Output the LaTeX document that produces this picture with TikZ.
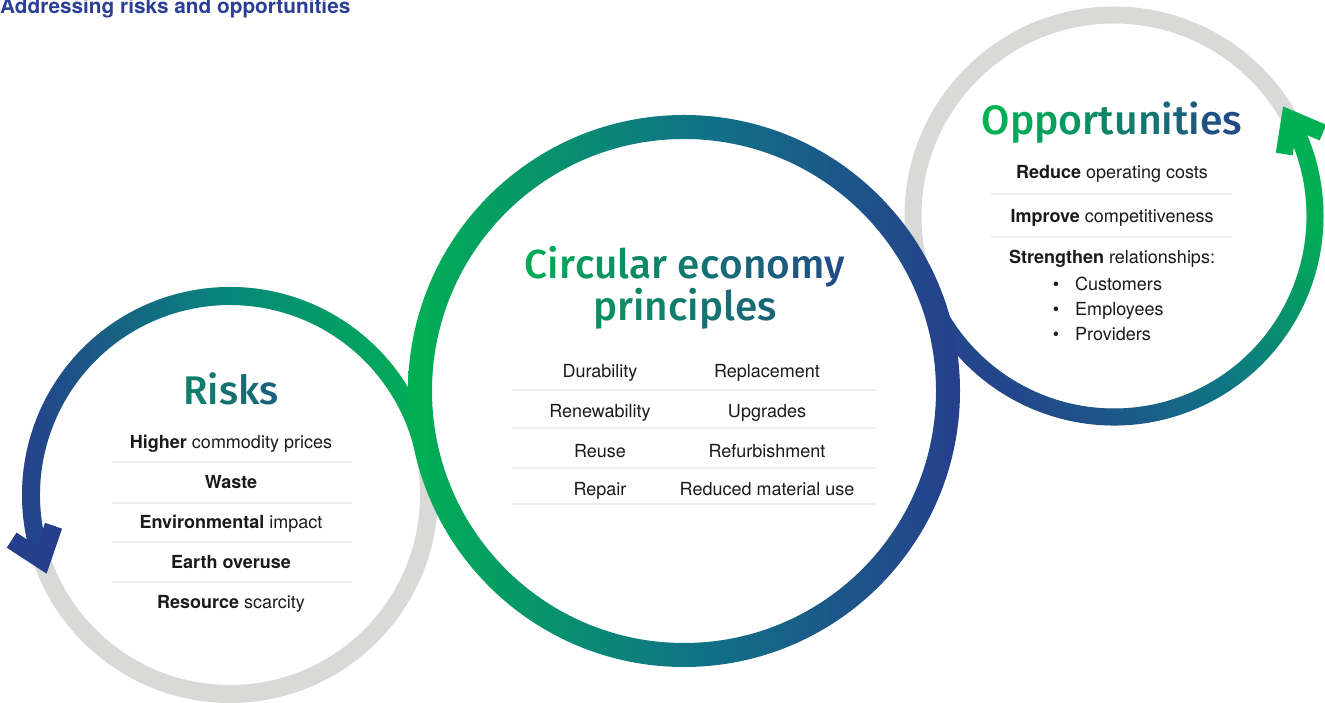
\documentclass[tikz,border=0pt]{standalone}
\usepackage{fontspec}
\setmainfont{TeX Gyre Heros}
\newfontfamily\medfont{Fira Sans Medium}
\usetikzlibrary{calc}
\definecolor{cgreen}{HTML}{00B052}
\definecolor{cblue}{HTML}{263F8C}
\definecolor{cmid}{HTML}{0F7585}
\definecolor{cteal}{HTML}{07877B}
\definecolor{cgray}{HTML}{D9D9D8}
\definecolor{csep}{HTML}{EEEEEE}
\definecolor{ctext}{HTML}{1A1A1A}
\definecolor{ctitle}{HTML}{2B3F95}
\newcommand\gc[2]{\textcolor{cblue!#1!cgreen}{#2}}
\begin{document}
\begin{tikzpicture}[x=1pt,y=1pt,
  body/.style={font=\fontsize{18}{20}\selectfont, text=ctext, inner sep=0pt, anchor=base},
  titl/.style={inner sep=0pt, anchor=base},
  sep/.style={draw=csep, line width=2.5pt},
  chevron/.style={line width=#1, miter limit=10, line join=miter, line cap=butt},
]
\useasboundingbox (0,0) rectangle (1325,703);
\coordinate (L) at (230,208);
\coordinate (M) at (684,312);
\coordinate (R) at (1114,487);

% gray rings
\draw[cgray, line width=18pt] (L) circle[radius=199pt];
\draw[cgray, line width=17pt] (R) circle[radius=201pt];

% left gradient arc
\shade[left color=cblue, right color=cgreen, middle color=cteal]
  ($(L)+(14:208)$) arc[start angle=14, end angle=197, radius=208pt]
  -- ($(L)+(197:190)$) arc[start angle=197, end angle=14, radius=190pt] -- cycle;

% right gradient arc
\shade[top color=cgreen, bottom color=cblue, middle color=cmid, shading angle=-45]
  ($(R)+(205:209.5)$) arc[start angle=205, end angle=387, radius=209.5pt]
  -- ($(R)+(387:192.5)$) arc[start angle=387, end angle=205, radius=192.5pt] -- cycle;

% middle ring
\shade[even odd rule, left color=cgreen, right color=cblue, middle color=cmid]
  (M) circle[radius=276pt] (M) circle[radius=252pt];

% arrowheads
\coordinate (lt) at ($(L)+(199:199)$);
\draw[cblue, chevron=18pt] ($(lt)+(147:36)$) -- (lt) -- ($(lt)+(71:36)$);
\coordinate (rt) at ($(R)+(29:201)$);
\draw[cgreen, chevron=17pt] ($(rt)+(-23:36)$) -- (rt) -- ($(rt)+(-99:36)$);

% heading
\node[titl, anchor=base west, font=\bfseries\fontsize{20.8}{22}\selectfont, text=ctitle] (ttl) at (0,689) {Addressing risks and opportunities};

% Risks
\node[titl, font=\medfont\fontsize{40}{40}\selectfont] (risks) at (231,298) {\gc{45}{R}\gc{50}{i}\gc{55}{s}\gc{62}{k}\gc{70}{s}};
\node[body] (r1) at (231,254) {\textbf{Higher} commodity prices};
\node[body] (r2) at (231,214) {\textbf{Waste}};
\node[body] (r3) at (231,174) {\textbf{Environmental} impact};
\node[body] (r4) at (231,134) {\textbf{Earth overuse}};
\node[body] (r5) at (231,94) {\textbf{Resource} scarcity};
\foreach \yy in {241,200,161,121} \draw[sep] (112,\yy) -- (352,\yy);

% Circular economy
\node[inner sep=0pt, anchor=north, align=center, font=\medfont\fontsize{40.5}{35}\selectfont] (ce) at (685,457) {\gc{5}{C}\gc{10}{i}\gc{15}{r}\gc{20}{c}\gc{25}{u}\gc{30}{l}\gc{35}{a}\gc{40}{r} \gc{50}{e}\gc{56}{c}\gc{62}{o}\gc{68}{n}\gc{74}{o}\gc{80}{m}\gc{88}{y}\\\gc{30}{p}\gc{34}{r}\gc{38}{i}\gc{42}{n}\gc{46}{c}\gc{50}{i}\gc{54}{p}\gc{58}{l}\gc{62}{e}\gc{66}{s}};
\node[body] (c1) at (600,325) {Durability};
\node[body] (c2) at (767,325) {Replacement};
\node[body] (c3) at (600,285) {Renewability};
\node[body] (c4) at (767,285) {Upgrades};
\node[body] (c5) at (600,245) {Reuse};
\node[body] (c6) at (767,245) {Refurbishment};
\node[body] (c7) at (600,207) {Repair};
\node[body] (c8) at (767,207) {Reduced material use};
\foreach \yy in {313,275,235,199} \draw[sep] (512,\yy) -- (876,\yy);

% Opportunities
\node[titl, font=\medfont\fontsize{41}{43}\selectfont] (opp) at (1112,568) {\gc{0}{O}\gc{8}{p}\gc{15}{p}\gc{23}{o}\gc{30}{r}\gc{38}{t}\gc{45}{u}\gc{53}{n}\gc{60}{i}\gc{68}{t}\gc{75}{i}\gc{83}{e}\gc{90}{s}};
\node[body] (o1) at (1112,524) {\textbf{Reduce} operating costs};
\node[body] (o2) at (1112,480) {\textbf{Improve} competitiveness};
\node[body] (o3) at (1112,439) {\textbf{Strengthen} relationships:};
\foreach \yy in {509,466} \draw[sep] (991,\yy) -- (1232,\yy);
\node[body] (b1) at (1056,412) {\textbullet};
\node[body] (b2) at (1056,387) {\textbullet};
\node[body] (b3) at (1056,362) {\textbullet};
\node[body, anchor=base west] (o4) at (1075,412) {Customers};
\node[body, anchor=base west] (o5) at (1075,387) {Employees};
\node[body, anchor=base west] (o6) at (1075,362) {Providers};
\end{tikzpicture}
\end{document}
